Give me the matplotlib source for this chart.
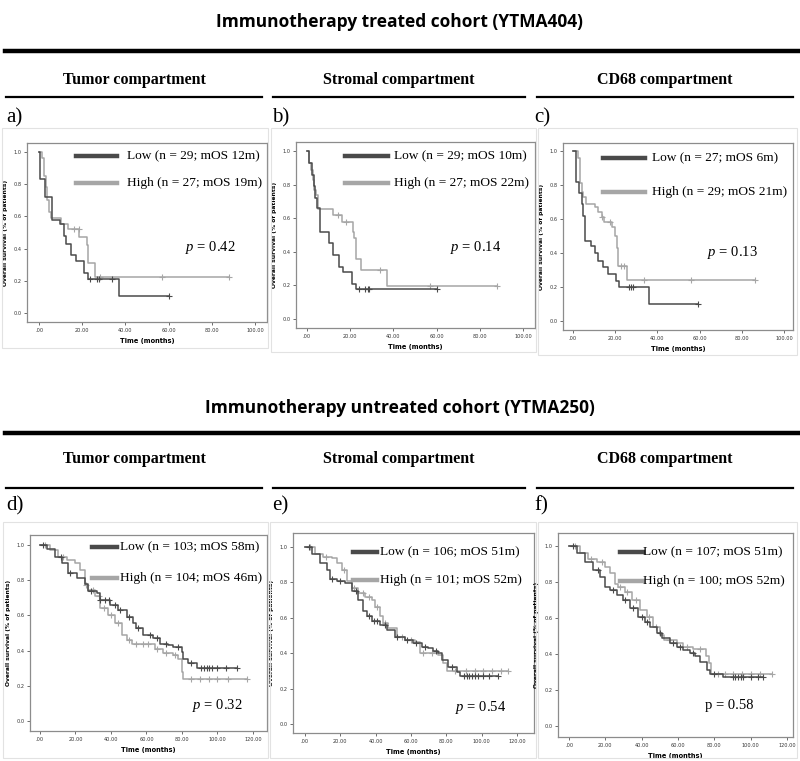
import numpy as np
import matplotlib
matplotlib.use("Agg")
import matplotlib.pyplot as plt
from matplotlib.lines import Line2D
from matplotlib.patches import Rectangle

plt.rcParams["mathtext.fontset"] = "custom"
plt.rcParams["mathtext.rm"] = "Liberation Serif"
plt.rcParams["mathtext.it"] = "Liberation Serif:italic"

# ---------------- data: step times (months), survival after step, censor times, last follow-up
# a) treated, tumor
a_low_t = [0.5, 2.8, 5.9, 9.8, 11.5, 12.6, 14.9, 16.9, 20.6, 22.6, 36.9]
a_low_s = [0.83, 0.72, 0.58, 0.55, 0.48, 0.43, 0.36, 0.32, 0.25, 0.21, 0.107]
a_low_c = [23.7, 27.0, 27.8, 33.8]
a_low_end = 60.2
a_high_t = [1.5, 2.3, 3.1, 3.7, 4.8, 5.6, 10.2, 13.6, 18.6, 22.3, 22.8, 26.0]
a_high_s = [0.96, 0.85, 0.78, 0.70, 0.63, 0.59, 0.55, 0.52, 0.47, 0.42, 0.31, 0.225]
a_high_c = [16.3, 18.3, 28.4, 57.0]
a_high_end = 88.0

# b) treated, stromal
b_low_t = [1.1, 2.2, 3.1, 3.7, 4.8, 6.0, 10.3, 12.2, 14.8, 16.8, 21.0, 22.5]
b_low_s = [0.93, 0.86, 0.79, 0.72, 0.66, 0.52, 0.45, 0.38, 0.31, 0.28, 0.21, 0.177]
b_low_c = [24.2, 26.9, 28.0, 28.8]
b_low_end = 60.0
b_high_t = [1.1, 1.9, 2.6, 3.4, 4.2, 5.2, 12.2, 16.0, 21.2, 21.6, 22.5, 25.1, 37.2]
b_high_s = [0.93, 0.89, 0.83, 0.77, 0.74, 0.655, 0.62, 0.58, 0.52, 0.48, 0.36, 0.29, 0.196]
b_high_c = [14.2, 18.1, 33.8, 57.0]
b_high_end = 87.8

# c) treated, CD68
c_low_t = [1.4, 3.0, 4.1, 4.6, 5.7, 8.8, 10.4, 12.0, 14.4, 16.7, 20.4, 21.9, 36.2]
c_low_s = [0.82, 0.75, 0.69, 0.62, 0.47, 0.44, 0.40, 0.35, 0.32, 0.277, 0.235, 0.20, 0.10]
c_low_c = [26.7, 27.5, 28.6]
c_low_end = 59.4
c_high_t = [2.5, 3.3, 4.1, 4.9, 6.4, 10.4, 12.0, 13.6, 14.7, 18.3, 19.9, 20.7, 21.5, 25.7]
c_high_s = [0.96, 0.81, 0.76, 0.73, 0.69, 0.67, 0.64, 0.61, 0.58, 0.55, 0.50, 0.43, 0.325, 0.24]
c_high_c = [13.9, 17.4, 22.7, 24.3, 33.6, 56.0]
c_high_end = 86.5

# d) untreated, tumor
d_low_t = [3.8, 8.5, 12.2, 16.0, 20.7, 25.4, 27.2, 31.9, 33.8, 39.4, 44.1, 48.8, 52.6, 54.0,
           58.0, 63.8, 67.6, 72.3, 75.1, 79.8, 80.8, 83.6, 88.3]
d_low_s = [0.98, 0.93, 0.90, 0.84, 0.81, 0.78, 0.74, 0.73, 0.69, 0.66, 0.63, 0.59, 0.555, 0.53,
           0.49, 0.47, 0.44, 0.43, 0.42, 0.39, 0.35, 0.33, 0.30]
d_low_c = [2, 12, 17, 29, 34, 36.5, 39, 42, 45, 50, 55, 62, 66, 71, 78, 85, 91, 92.5, 94, 95.5,
           97, 100, 105]
d_low_end = 110.8
d_high_t = [5.6, 10.3, 15.0, 19.7, 22.5, 25.4, 27.2, 31.0, 33.8, 38.5, 42.3, 46.0, 48.8, 51.6,
            64.8, 69.5, 75.1, 77.9, 79.8, 80.4]
d_high_s = [0.97, 0.93, 0.915, 0.90, 0.86, 0.77, 0.745, 0.71, 0.64, 0.60, 0.555, 0.49, 0.46,
            0.44, 0.41, 0.385, 0.375, 0.35, 0.28, 0.237]
d_high_c = [3, 13, 26, 30, 33, 36, 40, 44, 50, 54, 58, 61, 66, 71, 76, 85, 90, 95, 100, 106]
d_high_end = 116.4

# e) untreated, stromal
e_low_t = [3.8, 8.5, 12.3, 14.2, 17.9, 22.6, 26.4, 30.2, 33.0, 34.9, 37.7, 42.5, 46.2, 51.0,
           56.6, 61.3, 66.0, 69.8, 72.6, 75.5, 77.4, 81.1, 85.8, 87.7]
e_low_s = [0.96, 0.91, 0.87, 0.82, 0.81, 0.795, 0.75, 0.70, 0.64, 0.61, 0.58, 0.56, 0.53, 0.49,
           0.475, 0.456, 0.437, 0.427, 0.41, 0.40, 0.36, 0.324, 0.296, 0.271]
e_low_c = [2, 15, 20, 29, 36, 39, 41, 45, 52, 58, 63, 68, 74, 83, 90, 91.5, 93, 94.5, 96, 98,
           101, 104]
e_low_end = 109.4
e_high_t = [5.7, 10.4, 15.1, 17.9, 20.8, 23.6, 26.4, 30.2, 34.0, 37.7, 39.6, 42.5, 44.3, 47.2,
            51.9, 56.6, 62.3, 65.1, 75.5, 78.3, 80.2]
e_high_s = [0.96, 0.945, 0.936, 0.91, 0.87, 0.81, 0.77, 0.74, 0.72, 0.70, 0.66, 0.61, 0.57, 0.54,
            0.49, 0.475, 0.465, 0.40, 0.39, 0.343, 0.30]
e_high_c = [3, 12, 22, 28, 33, 36, 41, 45, 55, 60, 67, 72, 85, 91, 96, 101, 106, 111]
e_high_end = 115.0

# f) untreated, CD68
f_low_t = [4.2, 8.8, 13.4, 17.1, 19.8, 22.6, 26.2, 29.9, 33.6, 38.2, 41.8, 44.6, 48.3, 51.3,
           55.6, 59.3, 62.9, 66.6, 69.4, 72.0, 76.0, 77.6, 85.0]
f_low_s = [0.96, 0.913, 0.867, 0.83, 0.774, 0.756, 0.728, 0.70, 0.654, 0.607, 0.58, 0.552, 0.515,
           0.487, 0.46, 0.44, 0.422, 0.404, 0.39, 0.357, 0.31, 0.29, 0.27]
f_low_c = [2, 16, 24, 31, 35, 40, 43, 50, 57, 61, 68, 80, 90, 91.5, 93, 94.5, 96, 100, 104]
f_low_end = 107.0
f_high_t = [6.0, 10.6, 15.2, 19.8, 22.6, 25.3, 27.2, 30.8, 34.5, 39.1, 42.8, 46.4, 50.1, 52.5,
            59.3, 62.9, 68.0, 75.5, 77.0, 78.0]
f_high_s = [0.96, 0.93, 0.913, 0.885, 0.85, 0.79, 0.774, 0.746, 0.70, 0.644, 0.607, 0.552, 0.505,
            0.478, 0.46, 0.44, 0.43, 0.39, 0.35, 0.29]
f_high_c = [3, 12, 18, 28, 32, 37, 44, 48, 55, 65, 72, 82, 86, 90, 95, 100, 105]
f_high_end = 112.0

legend_low = ["Low (n = 29; mOS 12m)", "Low (n = 29; mOS 10m)", "Low (n = 27; mOS 6m)",
              "Low (n = 103; mOS 58m)", "Low (n = 106; mOS 51m)", "Low (n = 107; mOS 51m)"]
legend_high = ["High (n = 27; mOS 19m)", "High (n = 27; mOS 22m)", "High (n = 29; mOS 21m)",
               "High (n = 104; mOS 46m)", "High (n = 101; mOS 52m)", "High (n = 100; mOS 52m)"]
p_values = ["0.42", "0.14", "0.13", "0.32", "0.54", "0.58"]
tags = ["a)", "b)", "c)", "d)", "e)", "f)"]
compartments = ["Tumor compartment", "Stromal compartment", "CD68 compartment"]
cohorts = ["Immunotherapy treated cohort (YTMA404)", "Immunotherapy untreated cohort (YTMA250)"]

curves = [
    ((a_low_t, a_low_s, a_low_c, a_low_end), (a_high_t, a_high_s, a_high_c, a_high_end)),
    ((b_low_t, b_low_s, b_low_c, b_low_end), (b_high_t, b_high_s, b_high_c, b_high_end)),
    ((c_low_t, c_low_s, c_low_c, c_low_end), (c_high_t, c_high_s, c_high_c, c_high_end)),
    ((d_low_t, d_low_s, d_low_c, d_low_end), (d_high_t, d_high_s, d_high_c, d_high_end)),
    ((e_low_t, e_low_s, e_low_c, e_low_end), (e_high_t, e_high_s, e_high_c, e_high_end)),
    ((f_low_t, f_low_s, f_low_c, f_low_end), (f_high_t, f_high_s, f_high_c, f_high_end)),
]

# ---------------- layout (pixels in an 800x761 canvas)
W, H = 800, 761
DARK = "#4a4a4a"
LIGHT = "#a6a6a6"
SERIF = "Liberation Serif"

def fx(px):
    return px / W

def fy(py):
    return 1 - py / H

# axes boxes: left, top, right, bottom ; xlim ; ylim
boxes = [
    ((27, 143, 267, 322), (-5.6, 105.6), (-0.056, 1.056)),
    ((296, 142, 535, 328), (-5.1, 105.5), (-0.054, 1.054)),
    ((563, 143, 793, 330), (-4.7, 104.3), (-0.053, 1.047)),
    ((30, 535, 267, 731), (-5.6, 127.9), (-0.057, 1.057)),
    ((293, 533, 534, 733), (-6.8, 129.6), (-0.051, 1.079)),
    ((558, 533, 793, 737), (-6.1, 123.3), (-0.061, 1.072)),
]
# legend line x0, x1, text x, y low, y high ; p text x, y
legend_pos = [
    (76, 117, 127, 156, 183, 185, 248),
    (345, 388, 394, 156, 183, 450, 248),
    (603, 645, 652, 158, 192, 707, 252),
    (92, 117, 120, 547, 578, 192, 705),
    (353, 377, 380, 552, 580, 455, 707),
    (620, 643, 643, 552, 581, 705, 705),
]
chart_frames = [(2, 128, 268, 348), (271, 128, 536, 352), (538, 128, 797, 355),
                (3, 522, 268, 758), (270, 522, 536, 758), (538, 522, 797, 758)]

fig = plt.figure(figsize=(8, 7.61), dpi=100)

# section headers
for r, (ty, thick_y, sub_y, thin_y, tag_y) in enumerate([(22, 51, 80, 97, 118),
                                                         (408, 433, 459, 488, 506)]):
    fig.text(0.5, fy(ty), cohorts[r], ha="center", va="center", fontsize=12.5,
             fontweight="bold", family="Open Sans")
    fig.add_artist(Line2D([fx(5), fx(800)], [fy(thick_y)] * 2, color="black", lw=3.2))
    for k, (x0, x1) in enumerate([(6, 262), (273, 525), (537, 793)]):
        fig.text(fx((x0 + x1) / 2), fy(sub_y), compartments[k], ha="center", va="center",
                 fontsize=11.5, fontweight="bold", family=SERIF)
        fig.add_artist(Line2D([fx(x0), fx(x1)], [fy(thin_y)] * 2, color="black", lw=1.6))
    for k, x in enumerate([6, 272, 534]):
        fig.text(fx(x), fy(tag_y), tags[3 * r + k], ha="left", va="center", fontsize=15,
                 family=SERIF)

for x0, y0, x1, y1 in chart_frames:
    fig.add_artist(Rectangle((fx(x0), fy(y1)), (x1 - x0) / W, (y1 - y0) / H,
                             transform=fig.transFigure, fill=False, ec="#e2e2e2", lw=0.8))


def km(ax, t, s, cens, end, color):
    tt = np.r_[0.0, t, end]
    ss = np.r_[1.0, s, s[-1]]
    ax.step(tt, ss, where="post", color=color, lw=1.1)
    c = np.r_[cens, end]
    idx = np.searchsorted(tt, c, side="right") - 1
    ax.plot(c, ss[idx], "+", color=color, ms=4, mew=0.8)


for i, ((l, t, r, b), xlim, ylim) in enumerate(boxes):
    ax = fig.add_axes([fx(l), fy(b), (r - l) / W, (b - t) / H])
    low, high = curves[i]
    km(ax, *high, LIGHT)
    km(ax, *low, DARK)
    ax.set_xlim(*xlim)
    ax.set_ylim(*ylim)
    xmax = 100 if i < 3 else 120
    xt = np.arange(0, xmax + 1, 20)
    ax.set_xticks(xt)
    ax.set_xticklabels([".00" if v == 0 else f"{v:.2f}" for v in xt])
    yt = np.arange(0, 1.01, 0.2)
    ax.set_yticks(yt)
    ax.set_yticklabels([f"{v:.1f}" for v in yt])
    ax.tick_params(labelsize=3.6, length=2, width=0.5, pad=2, colors="#333333")
    for sp in ax.spines.values():
        sp.set_color("#8c8c8c")
        sp.set_linewidth(0.9)
    ax.set_xlabel("Time (months)", fontsize=4.8, fontweight="bold", labelpad=4)
    ax.set_ylabel("Overall survival (% of patients)", fontsize=4.3, fontweight="bold",
                  labelpad=4)

    lx0, lx1, tx, yl, yh, px, py = legend_pos[i]
    fig.add_artist(Line2D([fx(lx0), fx(lx1)], [fy(yl)] * 2, color=DARK, lw=3.2))
    fig.add_artist(Line2D([fx(lx0), fx(lx1)], [fy(yh)] * 2, color=LIGHT, lw=3.2))
    fig.text(fx(tx), fy(yl), legend_low[i], ha="left", va="center", fontsize=9.6, family=SERIF)
    fig.text(fx(tx), fy(yh), legend_high[i], ha="left", va="center", fontsize=9.6, family=SERIF)
    if i == 5:
        ptxt = "p = " + p_values[i]
    else:
        ptxt = "$\\mathit{p}$ = " + p_values[i]
    fig.text(fx(px), fy(py), ptxt, ha="left", va="center", fontsize=10.5, family=SERIF)

fig.savefig("out.png", dpi=100)
